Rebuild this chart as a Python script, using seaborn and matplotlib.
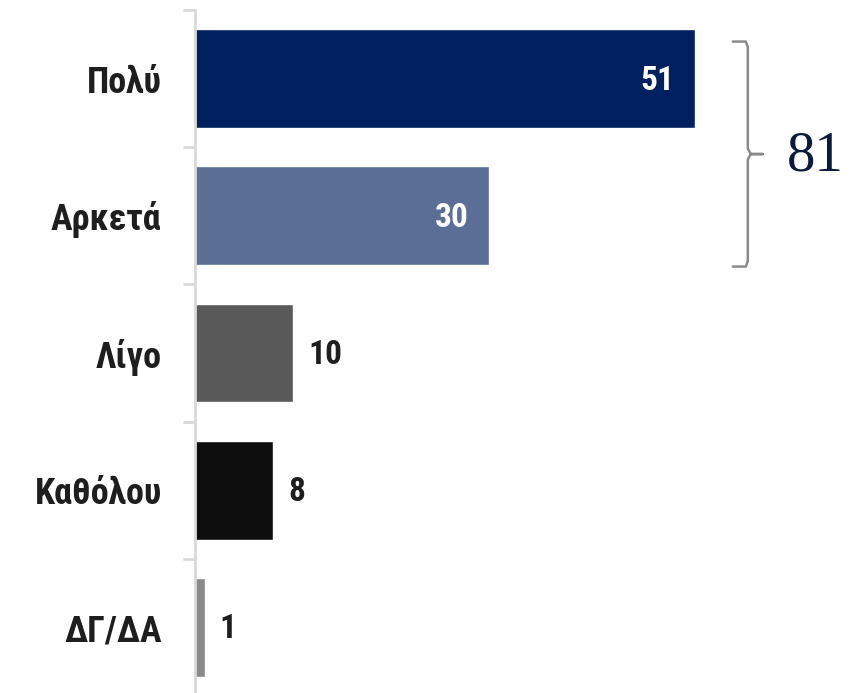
import matplotlib
matplotlib.use("Agg")
import matplotlib.pyplot as plt
import numpy as np
import pandas as pd
import seaborn as sns

categories = ["Πολύ", "Αρκετά", "Λίγο", "Καθόλου", "ΔΓ/ΔΑ"]
values = [51, 30, 10, 8, 1]
bar_colors = ["#002060", "#5b6e96", "#595959", "#0e0e0e", "#898989"]
inside_label = [True, True, False, False, False]
bracket_total = 81

sns.set_theme(style="white")
narrow = ["Roboto Condensed", "Liberation Sans", "DejaVu Sans"]
plt.rcParams["font.family"] = narrow

df = pd.DataFrame({"cat": categories, "val": values})

fig = plt.figure(figsize=(8.56, 6.93), dpi=100)
W, H = 856, 693
ax = fig.add_axes([195 / W, -3 / H, (W - 195) / W, 686 / H])

sns.barplot(data=df, x="val", y="cat", hue="cat", palette=bar_colors,
            orient="h", width=0.72, legend=False, ax=ax, saturation=1)

px_per_unit = 9.8
ax.set_xlim(0, (W - 195) / px_per_unit)
ax.set_ylim(len(categories) - 0.5, -0.5)

for s in ["top", "right", "bottom"]:
    ax.spines[s].set_visible(False)
ax.spines["left"].set_color("#d9d9d9")
ax.spines["left"].set_linewidth(2)
ax.set_xticks([])
ax.set_xlabel("")
ax.set_ylabel("")
ax.set_yticks(range(len(categories)))
ax.set_yticklabels(categories, fontsize=26, fontweight="bold", color="#1e1e1e")
ax.set_yticks(np.arange(-0.5, len(categories), 1.0), minor=True)
ax.tick_params(axis="y", which="major", left=False, length=0, pad=24)
ax.tick_params(axis="y", which="minor", left=True, length=9, width=2, color="#d9d9d9")

pad = 20 / px_per_unit
for i, (v, inside) in enumerate(zip(values, inside_label)):
    if inside:
        ax.text(v - pad, i + 0.015, str(v), ha="right", va="center", fontsize=24,
                fontweight="bold", color="white")
    else:
        ax.text(v + 15 / px_per_unit, i + 0.015, str(v), ha="left", va="center",
                fontsize=24, fontweight="bold", color="#1e1e1e")

# bracket grouping the top two answers
x0 = max(values[:2]) + 38 / px_per_unit
x1 = x0 + 15 / px_per_unit
x2 = x0 + 30 / px_per_unit
ytop, ybot = -0.27, 1.37
ymid = (ytop + ybot) / 2
r = 0.04
bx = [x0, x1 - 0.2, x1, x1, x1 + 0.3, x2, x1 + 0.3, x1, x1, x1 - 0.2, x0]
by = [ytop, ytop, ytop + r, ymid - r, ymid, ymid, ymid, ymid + r, ybot - r, ybot, ybot]
ax.plot(bx, by, color="#8a8a8a", lw=1.8, clip_on=False, solid_joinstyle="round")
ax.text(x2 + 24 / px_per_unit, ymid + 0.02, str(bracket_total), ha="left", va="center",
        fontsize=41, color="#0c1a3d", family=["Liberation Serif", "DejaVu Serif"])

fig.savefig("out.png", dpi=100)
